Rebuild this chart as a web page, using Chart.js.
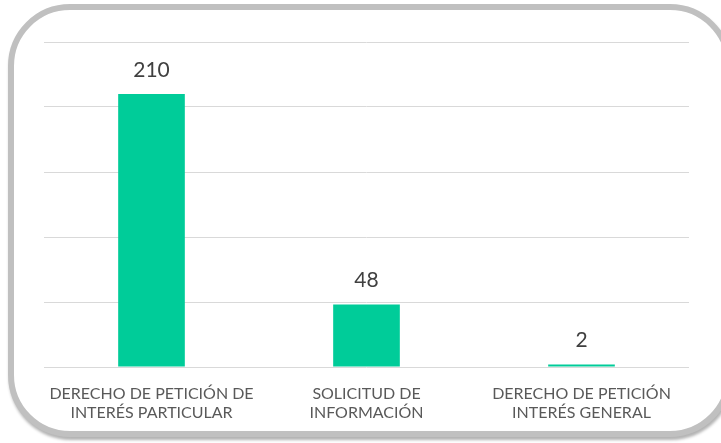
<!DOCTYPE html>
<html>
<head>
<meta charset="utf-8">
<script src="https://cdn.jsdelivr.net/npm/chart.js@4/dist/chart.umd.min.js"></script>
<style>
  html, body { margin: 0; padding: 0; background: #ffffff; overflow: hidden; width: 721px; height: 443px; }
  #clip { position: absolute; left: 0; top: 0; width: 721px; height: 443px; overflow: hidden; }
  #frame {
    position: absolute; left: 8px; top: 4px; width: 712px; height: 421px;
    border: 6px solid #c0c0c0; border-radius: 62px;
    box-shadow: 1px 3px 3px rgba(0,0,0,0.3);
    background: #ffffff;
  }
  #wrap { position: absolute; left: 0; top: 0; width: 721px; height: 443px; }
</style>
</head>
<body>
<div id="clip"><div id="frame"></div></div>
<div id="wrap"><canvas id="c" width="721" height="443"></canvas></div>
<script>
const categories = [
  ["DERECHO DE PETICIÓN DE", "INTERÉS PARTICULAR"],
  ["SOLICITUD DE", "INFORMACIÓN"],
  ["DERECHO DE PETICIÓN", "INTERÉS GENERAL"]
];
const values = [210, 48, 2];
const yTicks = [0, 50, 100, 150, 200, 250];

const valueLabels = {
  id: 'valueLabels',
  afterDatasetsDraw(chart) {
    const ctx = chart.ctx;
    const meta = chart.getDatasetMeta(0);
    ctx.save();
    ctx.font = '21px Lato';
    ctx.fillStyle = '#404040';
    ctx.textAlign = 'center';
    ctx.textBaseline = 'alphabetic';
    meta.data.forEach((bar, i) => {
      ctx.fillText(String(values[i]), bar.x, bar.y - 17.5);
    });
    ctx.restore();
  }
};

new Chart(document.getElementById('c'), {
  type: 'bar',
  data: {
    labels: categories,
    datasets: [{
      data: values,
      backgroundColor: '#00cc99',
      borderWidth: 0,
      categoryPercentage: 1,
      barPercentage: 0.31
    }]
  },
  options: {
    responsive: false,
    animation: false,
    layout: { padding: { left: 44, right: 32, top: 42, bottom: 0 } },
    plugins: { legend: { display: false }, tooltip: { enabled: false } },
    scales: {
      x: {
        grid: { display: false, drawTicks: false },
        border: { display: false },
        ticks: {
          color: '#595959',
          font: { family: 'Lato', size: 16 },
          padding: 17,
          maxRotation: 0,
          autoSkip: false
        },
        afterFit(scale) { scale.height = 76; }
      },
      y: {
        min: 0, max: 250,
        afterBuildTicks(scale) { scale.ticks = yTicks.map(v => ({ value: v })); },
        grid: { color: '#d9d9d9', lineWidth: 1, drawTicks: false },
        border: { display: false },
        ticks: { display: false },
        afterFit(scale) { scale.width = 0; }
      }
    }
  },
  plugins: [valueLabels]
});
</script>
</body>
</html>
